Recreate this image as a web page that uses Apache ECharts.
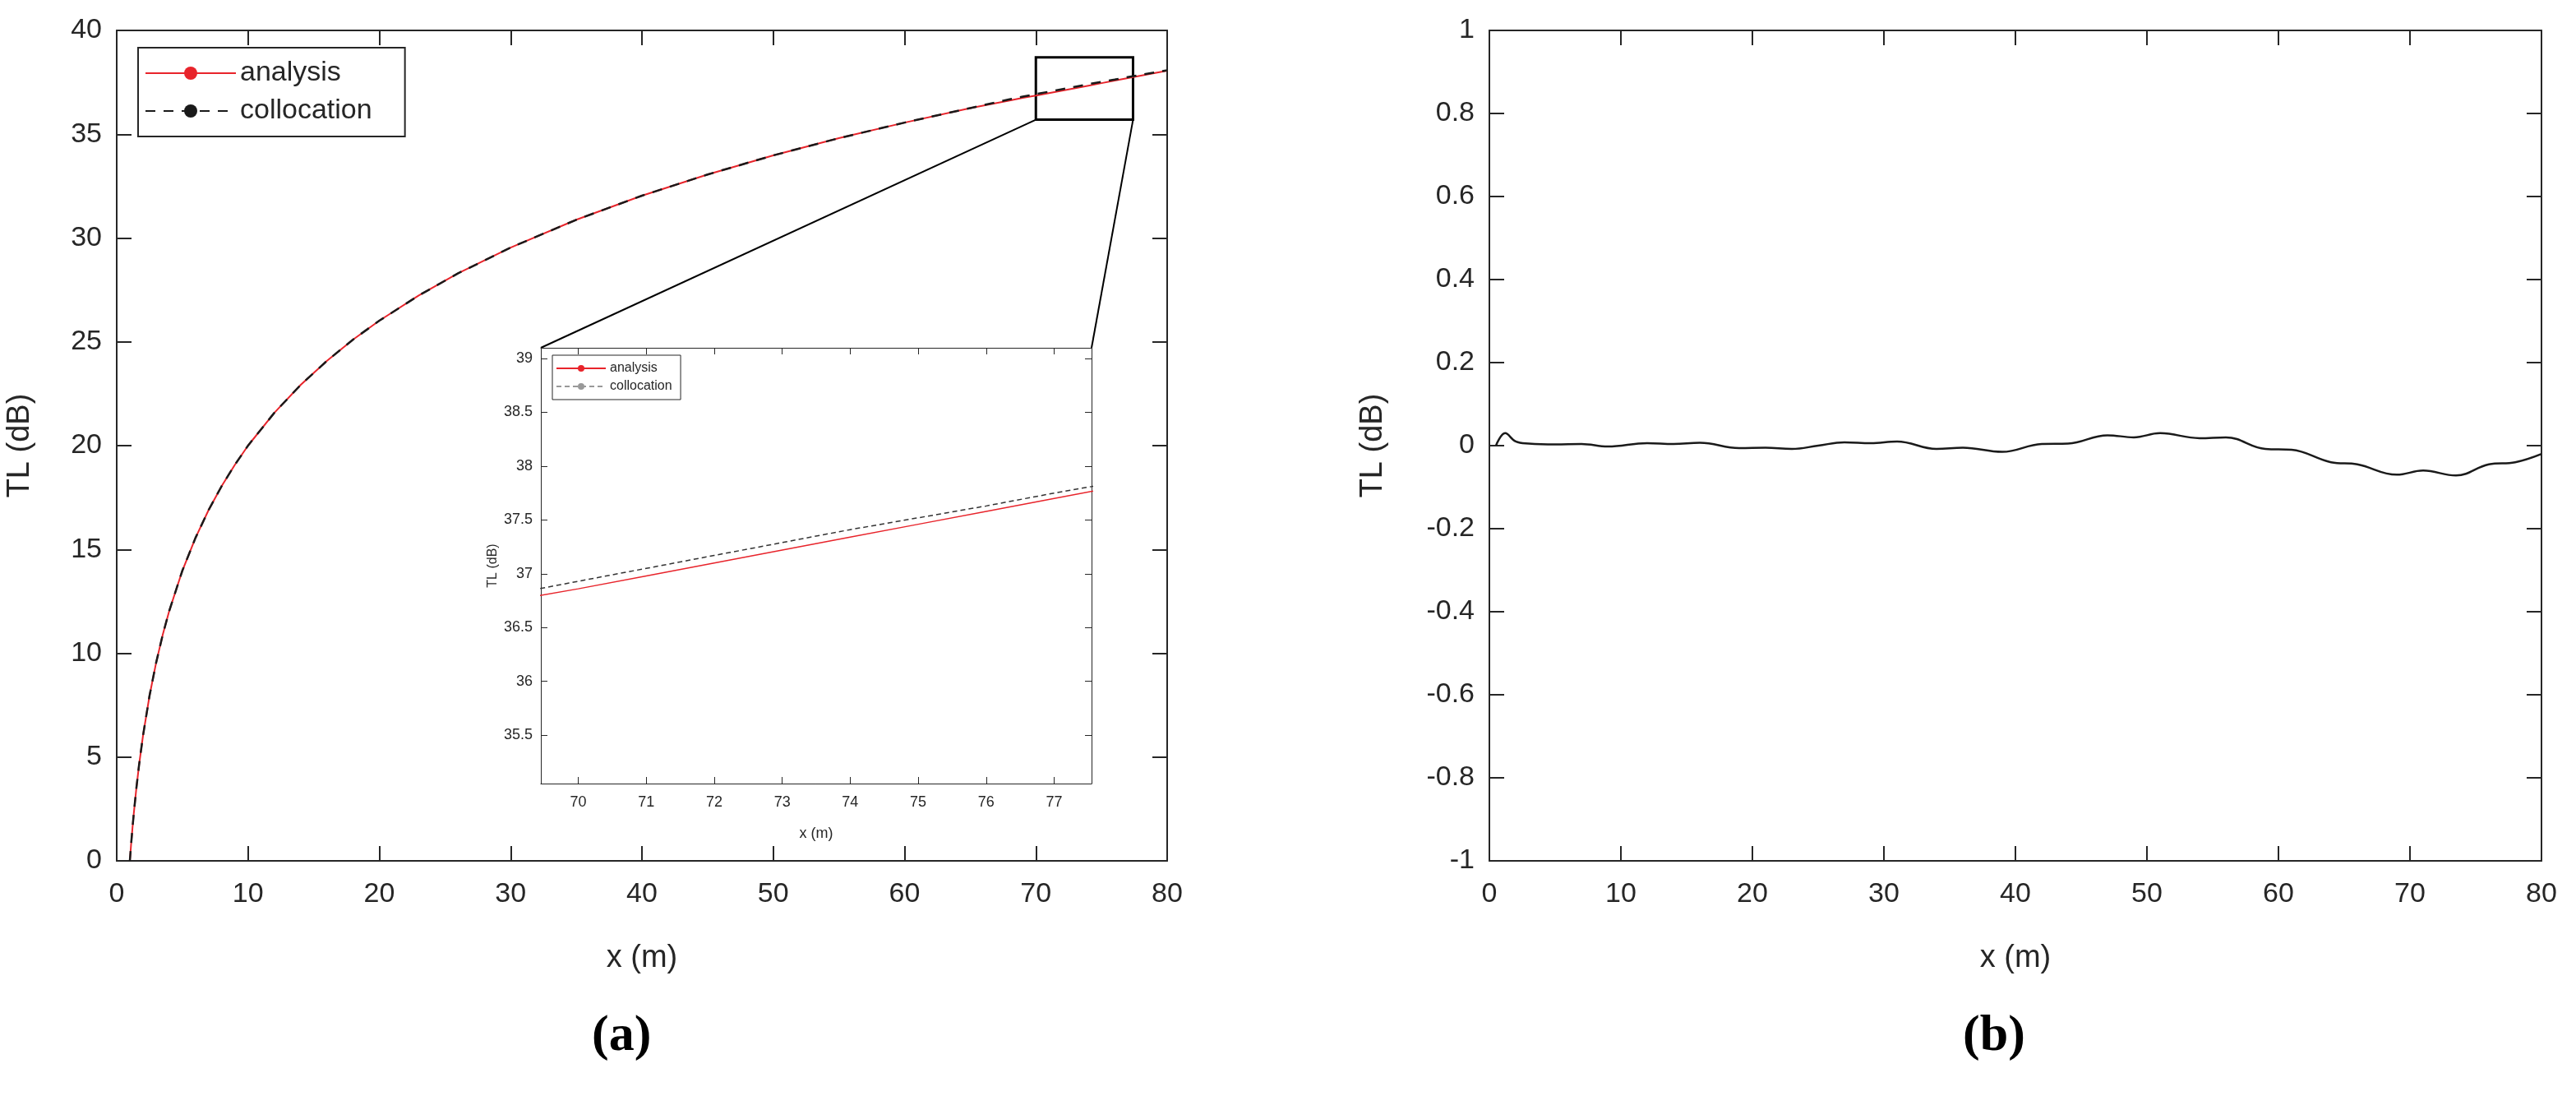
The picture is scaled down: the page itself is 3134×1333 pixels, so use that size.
<!DOCTYPE html>
<html><head><meta charset="utf-8">
<script src="https://cdn.jsdelivr.net/npm/echarts@6/dist/echarts.min.js"></script>
<style>html,body{margin:0;padding:0;background:#fff}#c{width:3134px;height:1333px}</style>
</head><body><div id="c"></div>
<script>
const xTL = [1, 1.1, 1.2, 1.3, 1.5, 1.7, 2, 2.5, 3, 3.5, 4, 5, 6, 7, 8, 9, 10, 12, 14, 16, 18, 20, 23, 26, 30, 35, 40, 45, 50, 55, 60, 65, 68, 69, 70, 71, 72, 73, 74, 75, 76, 77, 78, 79, 80];
const analysis = [0, 0.83, 1.58, 2.28, 3.52, 4.61, 6.02, 7.96, 9.54, 10.88, 12.04, 13.98, 15.56, 16.90, 18.06, 19.08, 20.00, 21.58, 22.92, 24.08, 25.11, 26.02, 27.23, 28.30, 29.54, 30.88, 32.04, 33.06, 33.98, 34.81, 35.56, 36.26, 36.62, 36.75, 36.86, 36.98, 37.10, 37.22, 37.34, 37.46, 37.58, 37.70, 37.82, 37.94, 38.06];
const collocation = [0, 0.83, 1.58, 2.28, 3.52, 4.61, 6.02, 7.96, 9.54, 10.88, 12.04, 13.98, 15.56, 16.90, 18.06, 19.08, 20.00, 21.58, 22.92, 24.08, 25.11, 26.02, 27.23, 28.30, 29.54, 30.88, 32.04, 33.06, 33.98, 34.81, 35.56, 36.26, 36.68, 36.81, 36.93, 37.05, 37.17, 37.29, 37.41, 37.52, 37.63, 37.75, 37.86, 37.97, 38.08];
const xDiff = [0.5, 1.2, 2, 3, 5, 7, 9, 12, 14, 16, 19, 21, 23, 25, 27, 29, 31, 34, 36, 39, 42, 44, 47, 49, 51, 54, 56, 59, 61, 64, 66, 69, 71, 73.5, 76, 78, 80];
const diff = [0, 0.03, 0.01, 0.005, 0.003, 0.004, -0.002, 0.006, 0.004, 0.007, -0.006, -0.005, -0.008, 0.0, 0.008, 0.006, 0.01, -0.008, -0.005, -0.015, 0.004, 0.005, 0.025, 0.02, 0.03, 0.018, 0.02, -0.008, -0.01, -0.04, -0.045, -0.07, -0.06, -0.072, -0.045, -0.04, -0.02];
const insetXTicks = [70, 71, 72, 73, 74, 75, 76, 77];
const insetYTicks = [35.5, 36, 36.5, 37, 37.5, 38, 38.5, 39];
const zoomBox = {x0: 70, x1: 77.4, y0: 35.7, y1: 38.7};

const pair = (xs, ys) => xs.map((x, i) => [x, ys[i]]);
const F = 'Liberation Sans, Arial, sans-serif';
const TC = '#262626';

function mainX(grid, name, pos, show) {
  return {type: 'value', gridIndex: grid, min: 0, max: 80, interval: 10, position: pos,
    name: show ? name : '', nameLocation: 'middle', nameGap: 100,
    nameTextStyle: {fontFamily: F, fontSize: 38, color: TC},
    axisLine: {show: true, onZero: false, lineStyle: {color: '#262626', width: 2}},
    axisTick: {show: true, inside: true, length: 18, lineStyle: {color: '#262626', width: 2}},
    axisLabel: {show: show, fontFamily: F, fontSize: 34, color: TC, margin: 24},
    splitLine: {show: false}};
}
function mainY(grid, min, max, interval, pos, show, gap) {
  return {type: 'value', gridIndex: grid, min, max, interval, position: pos,
    name: show ? 'TL (dB)' : '', nameLocation: 'middle', nameGap: gap,
    nameTextStyle: {fontFamily: F, fontSize: 38, color: TC},
    axisLine: {show: true, onZero: false, lineStyle: {color: '#262626', width: 2}},
    axisTick: {show: true, inside: true, length: 18, lineStyle: {color: '#262626', width: 2}},
    axisLabel: {show: show, fontFamily: F, fontSize: 34, color: TC, margin: 18},
    splitLine: {show: false}};
}

const chart = echarts.init(document.getElementById('c'));
const option = {
  animation: false,
  backgroundColor: '#fff',
  grid: [
    {left: 142, top: 37, width: 1278, height: 1010},
    {left: 658, top: 423, width: 670, height: 530, show: true, backgroundColor: '#fff', borderWidth: 0, z: 5},
    {left: 1812, top: 37, width: 1280, height: 1010}
  ],
  xAxis: [
    mainX(0, 'x (m)', 'bottom', true), mainX(0, '', 'top', false),
    {type: 'value', gridIndex: 1, min: 69.45, max: 77.55, position: 'bottom', name: 'x (m)', nameLocation: 'middle', nameGap: 52,
      nameTextStyle: {fontFamily: F, fontSize: 18, color: TC},
      axisLine: {show: true, onZero: false, lineStyle: {color: '#262626', width: 1}},
      axisTick: {show: true, inside: true, length: 8, customValues: insetXTicks, lineStyle: {color: '#262626'}},
      axisLabel: {fontFamily: F, fontSize: 18, color: TC, margin: 14, customValues: insetXTicks}, splitLine: {show: false}, z: 6},
    {type: 'value', gridIndex: 1, min: 69.45, max: 77.55, position: 'top',
      axisLine: {show: true, onZero: false, lineStyle: {color: '#262626', width: 1}},
      axisTick: {show: true, inside: true, length: 8, customValues: insetXTicks, lineStyle: {color: '#262626'}},
      axisLabel: {show: false}, splitLine: {show: false}, z: 6},
    mainX(2, 'x (m)', 'bottom', true), mainX(2, '', 'top', false)
  ],
  yAxis: [
    mainY(0, 0, 40, 5, 'left', true, 98), mainY(0, 0, 40, 5, 'right', false, 0),
    {type: 'value', gridIndex: 1, min: 35.05, max: 39.1, position: 'left', name: 'TL (dB)', nameLocation: 'middle', nameGap: 50,
      nameTextStyle: {fontFamily: F, fontSize: 16, color: TC},
      axisLine: {show: true, onZero: false, lineStyle: {color: '#262626', width: 1}},
      axisTick: {show: true, inside: true, length: 8, customValues: insetYTicks, lineStyle: {color: '#262626'}},
      axisLabel: {fontFamily: F, fontSize: 18, color: TC, margin: 10, customValues: insetYTicks}, splitLine: {show: false}, z: 6},
    {type: 'value', gridIndex: 1, min: 35.05, max: 39.1, position: 'right',
      axisLine: {show: true, onZero: false, lineStyle: {color: '#262626', width: 1}},
      axisTick: {show: true, inside: true, length: 8, customValues: insetYTicks, lineStyle: {color: '#262626'}},
      axisLabel: {show: false}, splitLine: {show: false}, z: 6},
    mainY(2, -1, 1, 0.2, 'left', true, 122), mainY(2, -1, 1, 0.2, 'right', false, 0)
  ],
  legend: [
    {left: 168, top: 58, width: 318, orient: 'vertical', itemWidth: 110, itemHeight: 20, itemGap: 12,
      padding: [14, 40, 14, 8], borderColor: '#262626', borderWidth: 2, backgroundColor: '#fff',
      textStyle: {fontFamily: F, fontSize: 34, color: TC}, data: ['analysis', 'collocation'], selectedMode: false},
    {left: 672, top: 432, orient: 'vertical', itemWidth: 60, itemHeight: 10, itemGap: 6,
      padding: [8, 6, 8, 4], borderColor: '#262626', borderWidth: 1, backgroundColor: '#fff', z: 10,
      textStyle: {fontFamily: F, fontSize: 16, color: TC}, data: ['analysis ', 'collocation '], selectedMode: false}
  ],
  series: [
    {name: 'analysis', type: 'line', xAxisIndex: 0, yAxisIndex: 0, data: pair(xTL, analysis), symbol: 'none',
      lineStyle: {color: '#e8242b', width: 2}, itemStyle: {color: '#e8242b'},
      markArea: {silent: true, itemStyle: {color: 'rgba(0,0,0,0)', borderColor: '#000', borderWidth: 3},
        data: [[{coord: [zoomBox.x0, zoomBox.y0]}, {coord: [zoomBox.x1, zoomBox.y1]}]]}},
    {name: 'collocation', type: 'line', xAxisIndex: 0, yAxisIndex: 0, data: pair(xTL, collocation), symbol: 'none',
      lineStyle: {color: '#1a1a1a', width: 2.5, type: [12, 10]}, itemStyle: {color: '#1a1a1a'}},
    {name: 'analysis ', type: 'line', xAxisIndex: 2, yAxisIndex: 2, data: pair(xTL, analysis), symbol: 'none', z: 7,
      lineStyle: {color: '#e8242b', width: 1.5}, itemStyle: {color: '#e8242b'}},
    {name: 'collocation ', type: 'line', xAxisIndex: 2, yAxisIndex: 2, data: pair(xTL, collocation), symbol: 'none', z: 7,
      lineStyle: {color: '#333', width: 1.5, type: [6, 4]}, itemStyle: {color: '#999'}},
    {name: 'diff', type: 'line', xAxisIndex: 4, yAxisIndex: 4, data: pair(xDiff, diff), symbol: 'none', smooth: 0.4,
      lineStyle: {color: '#1a1a1a', width: 2.5}}
  ]
};
chart.setOption(option);
// inset legend dashed item lighter like reference
chart.setOption({legend: [{}, {data: [{name: 'analysis '}, {name: 'collocation ', itemStyle: {color: '#999'}, lineStyle: {color: '#999', type: [6, 4]}}]}]});

const p1 = chart.convertToPixel({gridIndex: 0}, [zoomBox.x0, zoomBox.y0]);
const p2 = chart.convertToPixel({gridIndex: 0}, [zoomBox.x1, zoomBox.y0]);
const i1 = chart.convertToPixel({gridIndex: 1}, [69.45, 39.1]);
const i2 = chart.convertToPixel({gridIndex: 1}, [77.55, 39.1]);
chart.setOption({graphic: [
  {type: 'line', shape: {x1: p1[0], y1: p1[1], x2: i1[0], y2: i1[1]}, style: {stroke: '#000', lineWidth: 2}, z: 4},
  {type: 'line', shape: {x1: p2[0], y1: p2[1], x2: i2[0], y2: i2[1]}, style: {stroke: '#000', lineWidth: 2}, z: 4},
  {type: 'text', left: 720, top: 1230, style: {text: '(a)', font: 'bold 62px "Liberation Serif", serif', fill: '#000'}},
  {type: 'text', left: 2388, top: 1230, style: {text: '(b)', font: 'bold 62px "Liberation Serif", serif', fill: '#000'}}
]});
</script></body></html>
